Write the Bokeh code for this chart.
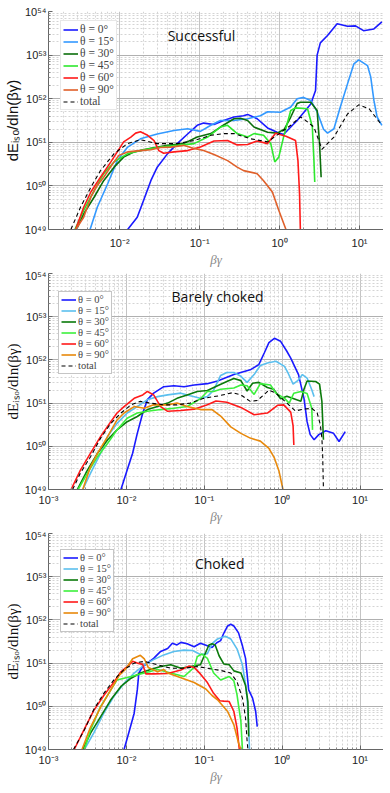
import numpy as np
from bokeh.plotting import figure
from bokeh.layouts import column
from bokeh.models import FixedTicker, CustomJSTickFormatter, Label
from bokeh.embed import file_html
from bokeh.resources import INLINE

# ---- data: log10(beta*gamma) and log10(dE_iso/dln(beta*gamma)) ----
LABELS = ["θ = 0°", "θ = 15°", "θ = 30°", "θ = 45°", "θ = 60°", "θ = 90°", "total"]
PANEL_TITLES = ["Successful", "Barely choked", "Choked"]

# Successful
S0_LX = [-1.90,-1.78,-1.70,-1.61,-1.53,-1.40,-1.28,-1.15,-1.03,-0.95,-0.82,-0.70,-0.57,-0.45,-0.40,-0.28,-0.15,-0.03,0.05,0.14,0.22,0.30,0.39,0.45,0.47,0.51,0.60,0.72,0.85,0.95,1.05,1.18,1.28]
S0_LY = [49.0,49.28,49.67,50.12,50.43,50.74,50.97,51.19,51.39,51.44,51.41,51.50,51.58,51.61,51.64,51.54,51.33,51.23,51.18,51.35,51.50,51.68,51.88,52.19,53.0,53.28,53.45,53.72,53.66,53.67,53.56,53.60,53.76]
S15_LX = [-2.37,-2.28,-2.15,-2.03,-1.90,-1.74,-1.53,-1.32,-1.15,-0.99,-0.86,-0.74,-0.57,-0.40,-0.24,-0.15,0.01,0.14,0.22,0.30,0.39,0.47,0.55,0.60,0.68,0.76,0.85,0.93,0.99,1.10,1.14,1.18,1.22,1.28]
S15_LY = [49.0,49.51,50.05,50.58,50.89,51.08,51.19,51.27,51.31,51.25,51.39,51.50,51.50,51.54,51.61,51.70,51.69,51.81,52.0,52.03,51.96,51.70,51.30,51.21,51.31,51.81,52.34,52.80,52.89,52.76,52.50,51.96,51.58,51.39]
S30_LX = [-2.54,-2.45,-2.32,-2.20,-2.07,-1.95,-1.82,-1.61,-1.40,-1.20,-1.03,-0.86,-0.74,-0.57,-0.49,-0.40,-0.32,-0.15,-0.03,0.06,0.14,0.22,0.26,0.39,0.47,0.50,0.52]
S30_LY = [49.0,49.36,49.74,50.12,50.43,50.66,50.78,50.86,50.93,50.97,51.12,51.20,51.35,51.54,51.55,51.50,51.35,51.23,51.21,51.30,51.58,51.89,51.92,51.92,51.73,50.97,50.20]
S45_LX = [-2.56,-2.45,-2.32,-2.20,-2.07,-1.90,-1.70,-1.49,-1.28,-1.07,-0.90,-0.74,-0.65,-0.53,-0.40,-0.32,-0.20,-0.11,-0.06,-0.01,0.05,0.14,0.20,0.35,0.41,0.43,0.44]
S45_LY = [49.0,49.44,49.89,50.28,50.55,50.74,50.83,50.89,50.93,50.97,51.12,51.35,51.39,51.20,51.12,51.20,51.16,50.97,50.55,50.66,51.12,51.73,51.79,51.77,51.35,50.58,50.09]
S60_LX = [-2.55,-2.45,-2.36,-2.24,-2.11,-2.03,-1.95,-1.86,-1.80,-1.74,-1.65,-1.57,-1.51,-1.45,-1.32,-1.15,-0.99,-0.82,-0.65,-0.53,-0.40,-0.28,-0.15,-0.05,0.08,0.20,0.23,0.25,0.26]
S60_LY = [49.0,49.51,49.86,50.20,50.55,50.78,51.01,51.12,51.21,51.24,51.16,51.04,50.81,50.75,50.78,50.81,50.89,51.03,51.04,50.94,50.95,51.03,50.97,51.21,51.14,51.04,50.58,49.82,49.0]
S90_LX = [-2.55,-2.45,-2.36,-2.28,-2.20,-2.07,-2.01,-1.90,-1.74,-1.61,-1.49,-1.36,-1.20,-1.07,-0.95,-0.82,-0.65,-0.53,-0.45,-0.28,-0.20,-0.09,-0.01,0.08]
S90_LY = [49.0,49.28,49.74,50.01,50.20,50.55,50.70,50.78,50.81,50.83,50.88,50.89,50.93,50.86,50.81,50.72,50.58,50.43,50.35,50.28,50.12,49.86,49.44,49.0]
STOT_LX = [-2.61,-2.49,-2.36,-2.24,-2.07,-1.90,-1.74,-1.53,-1.28,-1.07,-0.86,-0.70,-0.57,-0.36,-0.15,0.05,0.14,0.26,0.30,0.43,0.53,0.68,0.85,0.99,1.12,1.20,1.28]
STOT_LY = [49.0,49.51,49.97,50.35,50.74,50.97,51.06,50.97,50.97,51.04,51.16,51.20,51.20,51.08,51.01,51.27,51.39,51.58,51.54,51.35,50.84,51.12,51.65,51.86,51.77,51.58,51.39]

# Barely choked
B0_LX = [-2.07,-1.99,-1.92,-1.86,-1.79,-1.73,-1.65,-1.52,-1.39,-1.26,-1.13,-0.96,-0.83,-0.62,-0.41,-0.30,-0.23,-0.17,-0.10,-0.02,0.06,0.11,0.21,0.28,0.32,0.36,0.41,0.47,0.56,0.66,0.73,0.81]
B0_LY = [49.0,49.45,49.84,50.30,50.77,51.08,51.23,51.38,51.40,51.38,51.42,51.45,51.51,51.66,51.77,51.89,52.16,52.40,52.50,52.43,52.20,52.04,51.66,51.11,50.57,50.27,50.15,50.27,50.36,50.30,50.11,50.34]
B15_LX = [-2.56,-2.46,-2.33,-2.24,-2.12,-1.99,-1.86,-1.73,-1.60,-1.47,-1.30,-1.18,-1.05,-0.96,-0.88,-0.79,-0.71,-0.62,-0.53,-0.45,-0.36,-0.28,-0.19,-0.08,0.03,0.08,0.14,0.20,0.26,0.32,0.38,0.41]
B15_LY = [49.0,49.38,49.84,50.23,50.53,50.77,50.92,51.08,51.15,51.19,51.23,51.17,51.11,51.15,51.30,51.64,51.71,51.71,51.62,51.48,51.66,51.87,51.93,51.97,51.85,51.68,51.44,51.52,51.66,51.58,51.31,51.15]
B30_LX = [-2.63,-2.50,-2.37,-2.24,-2.12,-1.99,-1.86,-1.73,-1.60,-1.47,-1.35,-1.22,-1.09,-0.96,-0.83,-0.71,-0.62,-0.53,-0.45,-0.38,-0.30,-0.19,-0.11,-0.02,0.06,0.15,0.24,0.28,0.32,0.43,0.48,0.51,0.53]
B30_LY = [49.0,49.45,49.84,50.15,50.38,50.57,50.69,50.85,50.92,51.00,51.11,51.19,51.27,51.29,51.40,51.50,51.57,51.52,51.28,51.46,51.48,51.36,51.32,51.10,51.16,51.10,51.04,51.32,51.51,51.50,51.44,51.04,50.15]
B45_LX = [-2.62,-2.50,-2.37,-2.24,-2.12,-1.99,-1.86,-1.73,-1.56,-1.39,-1.22,-1.05,-0.96,-0.88,-0.79,-0.62,-0.53,-0.45,-0.36,-0.28,-0.15,-0.08,0.03,0.09,0.15,0.24,0.32,0.38,0.39]
B45_LY = [49.0,49.38,49.76,50.07,50.38,50.65,50.77,50.81,50.85,50.88,50.92,51.10,51.27,51.27,51.32,51.35,51.42,51.40,51.20,51.45,51.42,51.23,51.11,51.00,51.23,51.27,51.22,50.88,50.38]
B60_LX = [-2.71,-2.59,-2.46,-2.33,-2.20,-2.12,-2.03,-1.90,-1.79,-1.73,-1.65,-1.56,-1.47,-1.30,-1.13,-0.96,-0.85,-0.71,-0.53,-0.36,-0.19,-0.06,0.02,0.11,0.14,0.15]
B60_LY = [49.0,49.45,49.84,50.23,50.57,50.77,50.92,51.11,51.19,51.27,51.19,50.92,50.81,50.83,50.86,50.96,51.05,51.02,50.90,50.73,50.77,50.95,50.96,50.79,50.48,50.03]
B90_LX = [-2.56,-2.46,-2.37,-2.24,-2.12,-2.03,-1.90,-1.77,-1.65,-1.47,-1.35,-1.22,-1.05,-0.90,-0.79,-0.66,-0.53,-0.41,-0.28,-0.17,-0.10,-0.04,0.01]
B90_LY = [49.0,49.53,49.84,50.23,50.61,50.77,50.92,50.88,50.96,50.96,51.00,50.92,50.85,50.85,50.70,50.45,50.30,50.19,50.12,49.95,49.73,49.42,49.0]
BTOT_LX = [-2.69,-2.59,-2.46,-2.33,-2.20,-2.07,-1.94,-1.82,-1.69,-1.52,-1.35,-1.18,-1.01,-0.81,-0.64,-0.53,-0.41,-0.32,-0.23,-0.17,-0.08,0.06,0.17,0.28,0.38,0.45,0.49,0.51,0.52,0.53]
BTOT_LY = [49.0,49.38,49.76,50.19,50.53,50.77,50.96,51.04,51.00,50.96,50.96,51.00,51.11,51.17,51.24,51.19,51.04,51.06,51.20,51.30,51.23,51.00,50.82,50.86,50.88,50.77,50.50,50.19,49.8,49.0]

# Choked
C0_LX = [-2.03,-1.97,-1.90,-1.86,-1.84,-1.79,-1.73,-1.65,-1.56,-1.47,-1.41,-1.35,-1.30,-1.22,-1.13,-1.05,-0.96,-0.90,-0.84,-0.79,-0.75,-0.70,-0.66,-0.62,-0.56,-0.51,-0.47,-0.43,-0.38,-0.34,-0.32]
C0_LY = [49.0,49.38,49.84,50.38,50.77,50.92,51.00,51.11,51.27,51.34,51.46,51.42,51.48,51.45,51.38,51.46,51.40,51.36,51.47,51.52,51.69,51.86,51.90,51.86,51.70,51.40,51.11,50.38,50.19,49.88,49.53]
C15_LX = [-2.54,-2.42,-2.29,-2.16,-2.03,-1.90,-1.77,-1.65,-1.52,-1.39,-1.26,-1.15,-1.05,-0.96,-0.90,-0.83,-0.73,-0.66,-0.58,-0.51,-0.47,-0.45,-0.43,-0.42]
C15_LY = [49.0,49.38,49.84,50.23,50.53,50.77,50.96,51.08,51.19,51.27,51.30,51.29,51.20,51.22,51.45,51.56,51.62,51.56,51.33,50.96,50.50,50.19,49.60,49.0]
C30_LX = [-2.56,-2.46,-2.33,-2.20,-2.07,-1.94,-1.82,-1.69,-1.56,-1.43,-1.30,-1.18,-1.05,-1.00,-0.94,-0.90,-0.86,-0.81,-0.75,-0.68,-0.62,-0.53,-0.47,-0.44,-0.43]
C30_LY = [49.0,49.38,49.76,50.15,50.46,50.65,50.77,50.85,50.92,50.96,50.88,50.92,50.96,51.17,51.42,51.45,51.42,51.17,50.98,50.96,50.82,50.77,50.48,50.11,49.3]
C45_LX = [-2.54,-2.46,-2.33,-2.20,-2.12,-1.94,-1.77,-1.60,-1.43,-1.26,-1.13,-1.09,-1.03,-0.96,-0.88,-0.79,-0.68,-0.62,-0.58,-0.53,-0.51]
C45_LY = [49.0,49.45,50.00,50.38,50.61,50.69,50.77,50.85,50.77,50.69,50.90,51.15,51.21,51.11,50.77,50.61,50.69,50.59,50.27,49.65,49.0]
C60_LX = [-2.67,-2.54,-2.42,-2.29,-2.16,-2.07,-1.99,-1.92,-1.86,-1.79,-1.75,-1.65,-1.47,-1.30,-1.20,-1.13,-1.05,-0.96,-0.88,-0.80,-0.75,-0.68,-0.62,-0.58,-0.55]
C60_LY = [49.0,49.47,49.90,50.25,50.56,50.80,50.92,51.04,51.00,50.97,50.75,50.75,50.76,50.84,50.93,50.90,50.75,50.55,50.30,50.13,50.12,50.11,49.88,49.50,49.0]
C90_LX = [-2.57,-2.46,-2.33,-2.20,-2.09,-2.01,-1.92,-1.82,-1.77,-1.72,-1.60,-1.52,-1.47,-1.30,-1.13,-0.98,-0.90,-0.83,-0.70,-0.62,-0.56,-0.53]
C90_LY = [49.0,49.52,49.98,50.38,50.72,50.86,51.10,51.18,51.10,50.90,50.80,50.85,50.77,50.66,50.55,50.40,50.25,50.15,49.88,49.57,49.15,49.0]
CTOT_LX = [-2.68,-2.54,-2.42,-2.29,-2.16,-2.03,-1.90,-1.77,-1.60,-1.43,-1.26,-1.09,-0.96,-0.79,-0.66,-0.58,-0.51,-0.47,-0.45,-0.44]
CTOT_LY = [49.0,49.45,49.92,50.30,50.61,50.85,51.00,51.04,50.96,50.88,50.88,50.92,50.88,50.83,50.77,50.57,50.19,49.73,49.2,49.0]

SUCC = [(S0_LX,S0_LY),(S15_LX,S15_LY),(S30_LX,S30_LY),(S45_LX,S45_LY),(S60_LX,S60_LY),(S90_LX,S90_LY),(STOT_LX,STOT_LY)]
BARE = [(B0_LX,B0_LY),(B15_LX,B15_LY),(B30_LX,B30_LY),(B45_LX,B45_LY),(B60_LX,B60_LY),(B90_LX,B90_LY),(BTOT_LX,BTOT_LY)]
CHOK = [(C0_LX,C0_LY),(C15_LX,C15_LY),(C30_LX,C30_LY),(C45_LX,C45_LY),(C60_LX,C60_LY),(C90_LX,C90_LY),(CTOT_LX,CTOT_LY)]

X_MAJOR = [1e-3, 1e-2, 1e-1, 1e0, 1e1]
Y_MAJOR = [1e49, 1e50, 1e51, 1e52, 1e53, 1e54]

COLORS_1 = ["#1a1aff", "#3399ff", "#0b6e0b", "#2ee82e", "#ff1a1a", "#e0602a", "black"]
COLORS_23 = ["#1a1aff", "#5bbfee", "#0b7a0b", "#3cf03c", "#ff1a1a", "#e8890c", "black"]

SUP = """
const sup = {'-':'\u207b','0':'\u2070','1':'\u00b9','2':'\u00b2','3':'\u00b3','4':'\u2074','5':'\u2075','6':'\u2076','7':'\u2077','8':'\u2078','9':'\u2079'};
const e = Math.round(Math.log10(tick));
return '10' + String(e).split('').map(c => sup[c]).join('');
"""


def minor(lo, hi):
    out = []
    for e in range(lo, hi):
        for m in range(2, 10):
            out.append(m * 10.0 ** e)
    return out


def make_panel(curves, colors, title, title_xy, xr, border_top, border_bottom,
               frame_h, legend_loc, serif_label, legend_border, legend_font, xstand):
    p = figure(width=383, height=border_top + frame_h + border_bottom,
               frame_height=frame_h,
               x_axis_type="log", y_axis_type="log",
               x_range=xr, y_range=(1e49, 1e54),
               output_backend="svg", toolbar_location=None,
               min_border_left=48, min_border_right=0,
               min_border_top=border_top, min_border_bottom=border_bottom,
               background_fill_color="white", border_fill_color="white",
               outline_line_color=None)
    p.xaxis.ticker = FixedTicker(ticks=X_MAJOR, minor_ticks=minor(-3, 2))
    p.yaxis.ticker = FixedTicker(ticks=Y_MAJOR, minor_ticks=minor(49, 54))
    for ax in (p.xaxis, p.yaxis):
        ax.formatter = CustomJSTickFormatter(code=SUP)
        ax.major_label_text_font = "Liberation Sans"
        ax.major_label_text_font_size = "11px"
        ax.major_label_text_color = "#222222"
        ax.axis_line_color = "#666666"
        ax.major_tick_line_color = "#666666"
        ax.minor_tick_line_color = "#888888"
        ax.major_tick_in = 4
        ax.major_tick_out = 0
        ax.minor_tick_in = 2
        ax.minor_tick_out = 0
        ax.major_label_standoff = 2
    p.xaxis.major_label_standoff = xstand
    p.xaxis.axis_label = "βγ"
    p.xaxis.axis_label_text_font = "Liberation Serif"
    p.xaxis.axis_label_text_font_style = "italic"
    p.xaxis.axis_label_text_font_size = "13px"
    p.xaxis.axis_label_text_color = "#8a8a8a"
    p.xaxis.axis_label_standoff = 0
    p.yaxis.axis_label = "dE\u1d62\u209b\u2092/dln(βγ)"
    p.yaxis.axis_label_text_font = "Liberation Serif" if serif_label else "Liberation Sans"
    p.yaxis.axis_label_text_font_style = "normal"
    p.yaxis.axis_label_text_font_size = "15px"
    p.yaxis.axis_label_text_color = "#111111"
    p.yaxis.axis_label_standoff = 1

    p.xgrid.grid_line_color = "#c4c4c4"
    p.ygrid.grid_line_color = "#b0b0b0"
    p.xgrid.minor_grid_line_color = "#d4d4d4"
    p.ygrid.minor_grid_line_color = "#d4d4d4"
    p.xgrid.minor_grid_line_dash = "2 2"
    p.ygrid.minor_grid_line_dash = "2 2"

    for i, ((lx, ly), c) in enumerate(zip(curves, colors)):
        x = 10.0 ** np.array(lx)
        y = 10.0 ** np.array(ly)
        if i == 6:
            p.line(x, y, color=c, line_width=1.1, line_dash="4 3", legend_label=LABELS[i])
        else:
            p.line(x, y, color=c, line_width=1.6, legend_label=LABELS[i])

    lg = p.legend[0]
    lg.location = legend_loc
    lg.label_text_font = "Liberation Serif"
    lg.label_text_font_size = legend_font
    lg.label_height = 11
    lg.glyph_height = 11
    lg.glyph_width = 15
    lg.spacing = 0
    lg.padding = 2
    lg.margin = 0
    lg.label_standoff = 2
    lg.background_fill_color = "white"
    lg.background_fill_alpha = 1.0
    lg.border_line_color = legend_border

    p.add_layout(Label(x=title_xy[0], y=title_xy[1], text=title,
                       text_font="Open Sans", text_font_size="14px",
                       text_baseline="middle", text_color="#111111"))
    return p


p1 = make_panel(SUCC, COLORS_1, PANEL_TITLES[0], (10 ** -1.40, 10 ** 53.45),
                (10 ** -2.89, 10 ** 1.30), 11, 39, 218, (12, 119), False, "#d0d0d0", "11.5px", 7)
p2 = make_panel(BARE, COLORS_23, PANEL_TITLES[1], (10 ** -1.42, 10 ** 53.47),
                (1e-3, 20), 4, 40, 216, (10, 115), True, "#8c8c8c", "10.5px", 4)
p3 = make_panel(CHOK, COLORS_23, PANEL_TITLES[2], (10 ** -1.12, 10 ** 53.31),
                (1e-3, 20), 4, 40, 216, (12, 117), True, "#8c8c8c", "10.5px", 4)

layout = column(p1, p2, p3, spacing=0)
open("out.html", "w").write(file_html(layout, INLINE))
